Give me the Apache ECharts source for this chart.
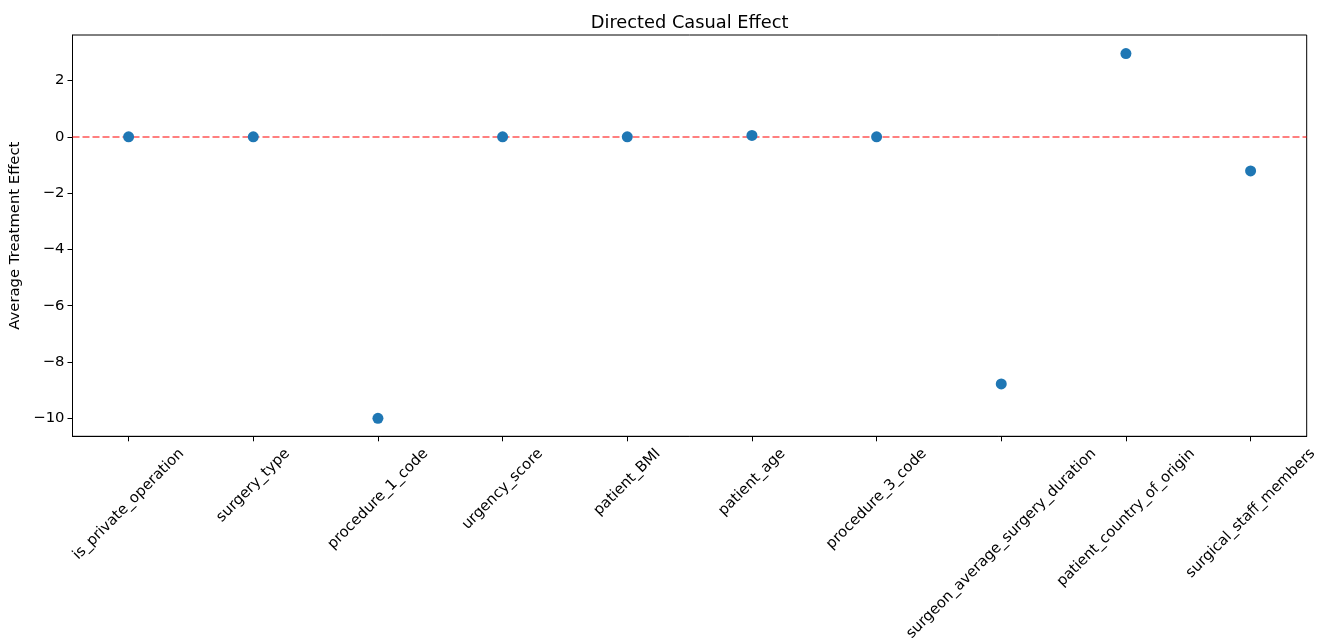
<!DOCTYPE html>
<html>
<head>
<meta charset="utf-8">
<script src="https://cdn.jsdelivr.net/npm/echarts@6/dist/echarts.min.js"></script>
<style>html,body{margin:0;padding:0;background:#fff;}#chart{width:1329px;height:640px;}</style>
</head>
<body>
<div id="chart"></div>
<script>
const categories = ["is_private_operation", "surgery_type", "procedure_1_code", "urgency_score", "patient_BMI", "patient_age", "procedure_3_code", "surgeon_average_surgery_duration", "patient_country_of_origin", "surgical_staff_members"];
const effects = [0.0, 0.0, -10.0, 0.0, 0.0, 0.05, 0.0, -8.78, 2.96, -1.21];
const yTicks = [-10, -8, -6, -4, -2, 0, 2];
const xTicks = categories.map((c, i) => i);

const font = 'DejaVu Sans';
const labelSize = 14.8;

// matplotlib-style rotated labels: bounding box centred under the tick, top just below the axis
const ctx = document.createElement('canvas').getContext('2d');
ctx.font = labelSize + 'px "' + font + '"';
const rich = {};
categories.forEach((c, i) => {
  const w = ctx.measureText(c).width;
  const h = (w + labelSize * 1.15) / Math.SQRT2;
  const d = 9 + h / 2;
  const p = Math.SQRT2 * d;
  rich['l' + i] = {fontFamily: font, fontSize: labelSize, color: '#000', padding: [p, p, 0, 0]};
});

const chart = echarts.init(document.getElementById('chart'));
chart.setOption({
  animation: false,
  backgroundColor: '#fff',
  title: {
    text: 'Directed Casual Effect',
    left: 684.6, top: 9, textAlign: 'center',
    textStyle: {fontFamily: font, fontSize: 17.8, fontWeight: 'normal', color: '#000'}
  },
  grid: {left: 72.5, right: 22.3, top: 35, bottom: 203.7, containLabel: false, outerBoundsMode: 'none',
    show: true, borderColor: '#000', borderWidth: 1, backgroundColor: 'transparent'},
  xAxis: {
    type: 'value', min: -0.45, max: 9.45,
    axisLine: {show: true, onZero: false, lineStyle: {color: '#000'}},
    axisTick: {show: true, length: 5, customValues: xTicks, lineStyle: {color: '#000'}},
    axisLabel: {customValues: xTicks, rotate: 45, margin: 0, align: 'center', verticalAlign: 'middle',
      fontFamily: font, fontSize: labelSize, color: '#000', hideOverlap: false,
      formatter: v => { const i = Math.round(v); return '{l' + i + '|' + categories[i] + '}'; },
      rich: rich},
    splitLine: {show: false}
  },
  yAxis: {
    type: 'value', min: -10.64, max: 3.62,
    name: 'Average Treatment Effect', nameLocation: 'middle', nameGap: 46, nameRotate: 90,
    nameTextStyle: {fontFamily: font, fontSize: labelSize, color: '#000'},
    axisLine: {show: true, onZero: false, lineStyle: {color: '#000'}},
    axisTick: {show: true, length: 5, customValues: yTicks, lineStyle: {color: '#000'}},
    axisLabel: {customValues: yTicks, margin: 8, fontFamily: font, fontSize: labelSize, color: '#000',
      formatter: v => (v < 0 ? '\u2212' + Math.abs(v) : String(v))},
    splitLine: {show: false}
  },
  series: [{
    type: 'scatter',
    data: effects.map((v, i) => [i, v]),
    symbolSize: 11,
    itemStyle: {color: '#1f77b4', opacity: 1},
    z: 3,
    markLine: {
      silent: true, symbol: ['none', 'none'], label: {show: false},
      lineStyle: {color: 'rgba(255,0,0,0.5)', type: [7, 3], width: 1.8},
      data: [{yAxis: 0}],
      z: 2
    }
  }]
});
</script>
</body>
</html>
